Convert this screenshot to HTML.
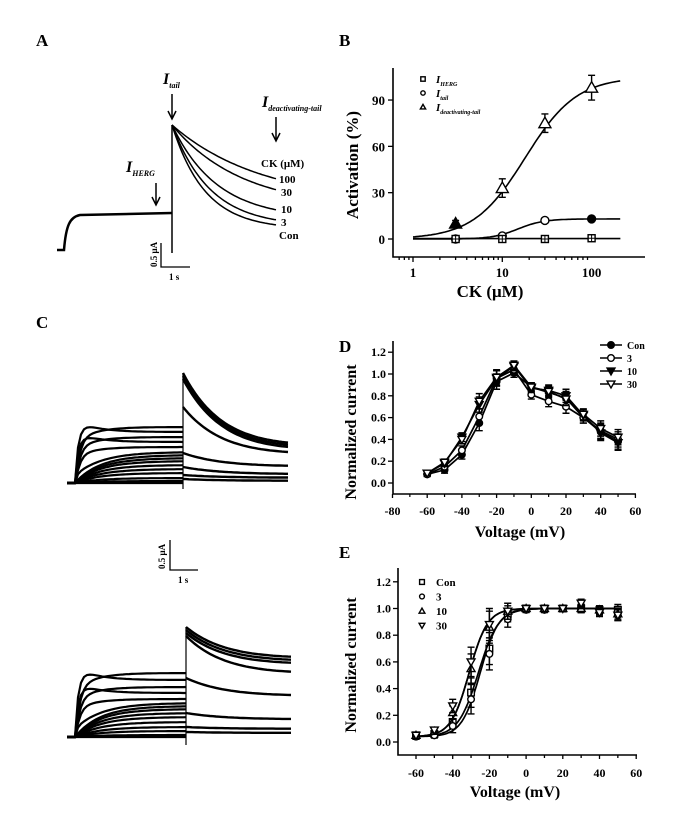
<!DOCTYPE html>
<html><head><meta charset="utf-8"><style>
html,body{margin:0;padding:0;background:#fff}
svg{display:block;font-family:"Liberation Serif",serif;font-weight:bold}
</style></head><body>
<svg id="fig" width="680" height="816" viewBox="0 0 680 816" xmlns="http://www.w3.org/2000/svg">
<g id="pA">
<text x="36" y="46" font-size="17">A</text>
<path d="M57,250 L64,250 C66,225 70,217 80,215 L172,213" fill="none" stroke="#000" stroke-width="2.5"/>
<line x1="172" y1="125" x2="172" y2="253" stroke="#000" stroke-width="1.5"/>
<g id="aTails"></g>
<text x="163" y="84" font-size="16" font-style="italic">I<tspan font-size="8" dy="4">tail</tspan></text>
<path d="M172,94 V118 M168,111 L172,119 L176,111" fill="none" stroke="#000" stroke-width="1.5"/>
<text x="262" y="107" font-size="16" font-style="italic">I<tspan font-size="8" dy="4">deactivating-tail</tspan></text>
<path d="M276,117 V140 M272,133 L276,141 L280,133" fill="none" stroke="#000" stroke-width="1.5"/>
<text x="126" y="172" font-size="16" font-style="italic">I<tspan font-size="8" dy="4">HERG</tspan></text>
<path d="M156,183 V204 M152,197 L156,205 L160,197" fill="none" stroke="#000" stroke-width="1.5"/>
<text x="261" y="167" font-size="11">CK (μM)</text>
<text x="279" y="183" font-size="11">100</text>
<text x="281" y="196" font-size="11">30</text>
<text x="281" y="213" font-size="11">10</text>
<text x="281" y="226" font-size="11">3</text>
<text x="279" y="239" font-size="11">Con</text>
<path d="M161,243 V267 H190" fill="none" stroke="#000" stroke-width="1.3"/>
<text transform="translate(157,267) rotate(-90)" font-size="9">0.5 μA</text>
<text x="169" y="280" font-size="9">1 s</text>
</g>
<g id="pB">
<text x="339" y="46" font-size="17">B</text>
</g>
<g id="pC">
<text x="36" y="328" font-size="17">C</text>
<path d="M170,540 V570 H198" fill="none" stroke="#000" stroke-width="1.3"/>
<text transform="translate(165,569) rotate(-90)" font-size="9">0.5 μA</text>
<text x="178" y="583" font-size="9">1 s</text>
</g>
<g id="pD">
<text x="339" y="352" font-size="17">D</text>
</g>
<g id="pE">
<text x="339" y="558" font-size="17">E</text>
</g>
</svg>
<script>
// ---- Panel A data ----
const aConc = ["100","30","10","3","Con"];
const aTailEnd = [179,190,210,220,225];
const aTau = [90,70,45,38,33];
// ---- Panel B data ----
const bConc = [3,10,30,100];
const bHerg = [0,0,0,0.5];
const bTail = [0,2,12,13];
const bDeact = [10,33,75,98];
const bDeactErr = [2,6,6,8];
const bTailErr = [0.8,1,1.5,1];
const bDeactFit = [105,18,1.5];
const bTailFit = [13,15,3];
const bYTicks = [0,30,60,90];
const bXTicks = [1,10,100];
// ---- Panel D data ----
const dV = [-60,-50,-40,-30,-20,-10,0,10,20,30,40,50];
const dCon = [0.08,0.12,0.26,0.55,0.93,1.01,0.88,0.83,0.78,0.60,0.47,0.38];
const d3 = [0.08,0.15,0.30,0.61,0.96,1.04,0.81,0.75,0.70,0.60,0.48,0.40];
const d10 = [0.09,0.18,0.42,0.72,0.96,1.07,0.87,0.85,0.80,0.62,0.46,0.37];
const d30 = [0.09,0.19,0.40,0.75,0.97,1.08,0.88,0.84,0.77,0.63,0.50,0.42];
const dErr = [0.02,0.03,0.04,0.07,0.07,0.04,0.04,0.05,0.06,0.05,0.07,0.07];
const dXTicks = [-80,-60,-40,-20,0,20,40,60];
const dYTicks = [0,0.2,0.4,0.6,0.8,1.0,1.2];
const dNames = ["Con","3","10","30"];
// ---- Panel E data ----
const eV = [-60,-50,-40,-30,-20,-10,0,10,20,30,40,50];
const eCon = [0.05,0.06,0.15,0.37,0.70,0.96,1.0,1.0,1.0,1.0,0.99,0.99];
const e3 = [0.04,0.05,0.12,0.32,0.66,0.92,0.99,0.99,1.0,1.0,0.98,0.95];
const e10 = [0.05,0.08,0.22,0.55,0.86,0.98,1.0,1.0,1.0,1.0,0.99,0.96];
const e30 = [0.05,0.09,0.27,0.60,0.88,0.98,1.0,1.0,1.0,1.04,0.97,0.95];
const eErr = [0.02,0.02,0.05,0.11,0.12,0.06,0.02,0.02,0.02,0.03,0.03,0.04];
const eHalf = [-25,-26,-31,-31];
const eSlope = [5,5.5,5,5];
const eNames = ["Con","3","10","30"];

const NS="http://www.w3.org/2000/svg";
function mk(parent,tag,attrs){const e=document.createElementNS(NS,tag);for(const k in attrs)e.setAttribute(k,attrs[k]);parent.appendChild(e);return e;}
function txt(parent,x,y,s,size,anchor){const t=mk(parent,"text",{x:x,y:y,"font-size":size,"text-anchor":anchor||"middle"});t.textContent=s;return t;}
function marker(g,type,x,y,r,fill){
  let e;
  if(type==="circle")e=mk(g,"circle",{cx:x,cy:y,r:r});
  else if(type==="square")e=mk(g,"rect",{x:x-r,y:y-r,width:2*r,height:2*r});
  else if(type==="up")e=mk(g,"polygon",{points:`${x},${y-r*1.2} ${x-r*1.2},${y+r*0.9} ${x+r*1.2},${y+r*0.9}`});
  else e=mk(g,"polygon",{points:`${x},${y+r*1.2} ${x-r*1.2},${y-r*0.9} ${x+r*1.2},${y-r*0.9}`});
  e.setAttribute("fill",fill?"#000":"#fff");e.setAttribute("stroke","#000");e.setAttribute("stroke-width","1.4");
  return e;
}
function errbar(g,x,y1,y2){mk(g,"path",{d:`M${x},${y1}V${y2}M${x-3.5},${y1}H${x+3.5}M${x-3.5},${y2}H${x+3.5}`,stroke:"#000","stroke-width":1.4,fill:"none"});}

// ---- Panel A tails ----
(function(){
  const g=document.getElementById("aTails");
  aTailEnd.forEach((yEnd,i)=>{
    const x0=172,y0=125,x1=277;let d="";
    const A=(yEnd-y0)/(1-Math.exp(-(x1-x0)/aTau[i]));
    for(let x=x0;x<=x1;x+=2){const y=y0+A*(1-Math.exp(-(x-x0)/aTau[i]));d+=(d?"L":"M")+x+","+y.toFixed(1);}
    const p=mk(g,"path",{d:d,fill:"none",stroke:"#000","stroke-width":1.5});
    
    
  });
})();

// ---- Panel B ----
(function(){
  const g=document.getElementById("pB");
  const X=c=>413+89.3*Math.log10(c), Y=v=>239-v*1.544;
  mk(g,"path",{d:"M393,68V257H645",fill:"none",stroke:"#000","stroke-width":1.6});
  for(let dec=0;dec<3;dec++)for(let m=1;m<10;m++){const c=Math.pow(10,dec-1)*m;const x=X(c);if(x<395||x>646)continue;mk(g,"line",{x1:x,x2:x,y1:257,y2:m===1?262:260,stroke:"#000","stroke-width":1.3});}
  bXTicks.forEach(c=>txt(g,X(c),277,String(c),13));
  bYTicks.forEach(v=>{mk(g,"line",{x1:388,x2:393,y1:Y(v),y2:Y(v),stroke:"#000","stroke-width":1.3});txt(g,385,Y(v)+5,String(v),13,"end");});
  txt(g,490,297,"CK (μM)",17);
  const yl=txt(g,0,0,"Activation (%)",17);yl.setAttribute("transform","translate(358,165) rotate(-90)");
  function fit(p,from){let d="";for(let l=Math.log10(from);l<=Math.log10(210);l+=0.02){const c=Math.pow(10,l);const v=p[0]/(1+Math.pow(p[1]/c,p[2]));d+=(d?"L":"M")+X(c).toFixed(1)+","+Y(v).toFixed(1);}mk(g,"path",{d:d,fill:"none",stroke:"#000","stroke-width":1.6});}
  fit(bDeactFit,1);fit(bTailFit,1);
  mk(g,"line",{x1:X(1),x2:X(210),y1:Y(0.3),y2:Y(0.3),stroke:"#000","stroke-width":1.6});
  bConc.forEach((c,i)=>{
    errbar(g,X(c),Y(bDeact[i]+bDeactErr[i]),Y(bDeact[i]-bDeactErr[i]));
    const m1=marker(g,"up",X(c),Y(bDeact[i]),5,i===0);
    errbar(g,X(c),Y(bTail[i]+bTailErr[i]),Y(bTail[i]-bTailErr[i]));
    const m2=marker(g,"circle",X(c),Y(bTail[i]),4,i===3);
    const m3=marker(g,"square",X(c),Y(bHerg[i]),3.5,false);
    mk(g,"path",{d:`M${X(c)-3.5},${Y(bHerg[i])}h7M${X(c)},${Y(bHerg[i])-3.5}v7`,stroke:"#000","stroke-width":1});
  });
  const leg=[["square","HERG"],["circle","tail"],["up","deactivating-tail"]];
  leg.forEach((l,i)=>{const y=79+i*14;marker(g,l[0],423,y,2.2,false);
    const t=mk(g,"text",{x:436,y:y+4,"font-size":11,"font-style":"italic"});t.innerHTML='I<tspan font-size="6" dy="3">'+l[1]+'</tspan>';
    });
})();

// ---- Panel C traces ----
const cTopSteady=[427,432,437,442,447,452,455,458,461,465,469,473,478,481,483];
const cTopTailStart=[373,376,379,407,453,467,475,479];
const cTopTailEnd=[455,457,459,460,468,475,478,481];
const cBotSteady=[673,680,687,693,699,703,706,709,713,717,722,727,731,735,737];
const cBotTailStart=[627,630,633,636,678,713,727,732];
const cBotTailEnd=[662,665,668,678,698,720,729,733];
function drawFamily(g,x0,xStep,yBase,steady,tS,tE,xEnd){
  steady.forEach((ys,i)=>{
    const overshoot=i<6?(yBase-ys)*0.25:0;let d=`M${x0-8},${yBase}L${x0},${yBase}`;
    for(let x=x0;x<=xStep;x+=3){const t=(x-x0);const y=yBase-(yBase-ys)*(1-Math.exp(-t/(i<5?4:25)))-overshoot*Math.exp(-t/20)*(1-Math.exp(-t/2))*(i%2?1:-1);d+="L"+x+","+y.toFixed(1);}
    const p=mk(g,"path",{d:d,fill:"none",stroke:"#000","stroke-width":2.2});
    
  });
  tS.forEach((y0,i)=>{
    let d="";for(let x=xStep;x<=xEnd;x+=3){const t=(x-xStep)/(xEnd-xStep);const y=tE[i]-(tE[i]-y0)*Math.exp(-t*2.6)+(y0-tE[i])*Math.exp(-2.6)*t;d+=(d?"L":"M")+x+","+y.toFixed(1);}
    const p=mk(g,"path",{d:d,fill:"none",stroke:"#000","stroke-width":2.4});
    
  });
}
(function(){
  const g=document.getElementById("pC");
  drawFamily(g,75,183,483,cTopSteady,cTopTailStart,cTopTailEnd,290);
  mk(g,"line",{x1:183,x2:183,y1:373,y2:489,stroke:"#000","stroke-width":1.2});
  drawFamily(g,75,186,737,cBotSteady,cBotTailStart,cBotTailEnd,293);
  mk(g,"line",{x1:186,x2:186,y1:627,y2:745,stroke:"#000","stroke-width":1.2});
})();

// ---- Panel D ----
(function(){
  const g=document.getElementById("pD");
  const X=v=>392.5+(v+80)*1.735, Y=v=>483-v*109;
  mk(g,"path",{d:"M393,341V494H636",fill:"none",stroke:"#000","stroke-width":1.6});
  dXTicks.forEach(v=>{mk(g,"line",{x1:X(v),x2:X(v),y1:494,y2:498,stroke:"#000","stroke-width":1.3});txt(g,X(v),515,String(v),12);});
  for(let v=-70;v<60;v+=20)mk(g,"line",{x1:X(v),x2:X(v),y1:494,y2:497,stroke:"#000","stroke-width":1.2});
  dYTicks.forEach(v=>{mk(g,"line",{x1:388,x2:393,y1:Y(v),y2:Y(v),stroke:"#000","stroke-width":1.3});txt(g,386,Y(v)+4,v.toFixed(1),12,"end");});
  txt(g,520,537,"Voltage (mV)",16);
  const yl=txt(g,0,0,"Normalized current",16);yl.setAttribute("transform","translate(356,432) rotate(-90)");
  const series=[[dCon,"circle",true],[d3,"circle",false],[d10,"down",true],[d30,"down",false]];
  series.forEach((s,si)=>{
    let d="";dV.forEach((v,i)=>{d+=(i?"L":"M")+X(v)+","+Y(s[0][i]).toFixed(1);});
    mk(g,"path",{d:d,fill:"none",stroke:"#000","stroke-width":1.7});
    dV.forEach((v,i)=>{errbar(g,X(v),Y(s[0][i]+dErr[i]),Y(s[0][i]-dErr[i]));
      const m=marker(g,s[1],X(v),Y(s[0][i]),3.3,s[2]);});
    const ly=345+si*13;mk(g,"line",{x1:600,x2:622,y1:ly,y2:ly,stroke:"#000","stroke-width":1.6});
    marker(g,s[1],611,ly,3.3,s[2]);
    const t=txt(g,627,ly+4,dNames[si],10,"start");
  });
})();

// ---- Panel E ----
(function(){
  const g=document.getElementById("pE");
  const X=v=>416+(v+60)*1.835, Y=v=>742-v*133.5;
  mk(g,"path",{d:"M398,568V755H637",fill:"none",stroke:"#000","stroke-width":1.6});
  for(let v=-60;v<=60;v+=10)mk(g,"line",{x1:X(v),x2:X(v),y1:755,y2:v%20===0?759:758,stroke:"#000","stroke-width":1.3});
  [-60,-40,-20,0,20,40,60].forEach(v=>txt(g,X(v),777,String(v),12));
  [0,0.2,0.4,0.6,0.8,1.0,1.2].forEach(v=>{mk(g,"line",{x1:393,x2:398,y1:Y(v),y2:Y(v),stroke:"#000","stroke-width":1.3});txt(g,391,Y(v)+4,v.toFixed(1),12,"end");});
  txt(g,515,797,"Voltage (mV)",16);
  const yl=txt(g,0,0,"Normalized current",16);yl.setAttribute("transform","translate(356,665) rotate(-90)");
  const series=[[eCon,"square"],[e3,"circle"],[e10,"up"],[e30,"down"]];
  series.forEach((s,si)=>{
    let d="";for(let v=-62;v<=51;v+=1){const y=0.04+0.96/(1+Math.exp((eHalf[si]-v)/eSlope[si]));d+=(d?"L":"M")+X(v).toFixed(1)+","+Y(y).toFixed(1);}
    mk(g,"path",{d:d,fill:"none",stroke:"#000","stroke-width":1.7});
    eV.forEach((v,i)=>{errbar(g,X(v),Y(s[0][i]+eErr[i]),Y(s[0][i]-eErr[i]));
      const m=marker(g,s[1],X(v),Y(s[0][i]),3.3,false);});
    const ly=582+si*14.5;marker(g,s[1],422,ly,2.4,false);
    const t=txt(g,436,ly+4,eNames[si],11,"start");
  });
})();
</script>
</body></html>
